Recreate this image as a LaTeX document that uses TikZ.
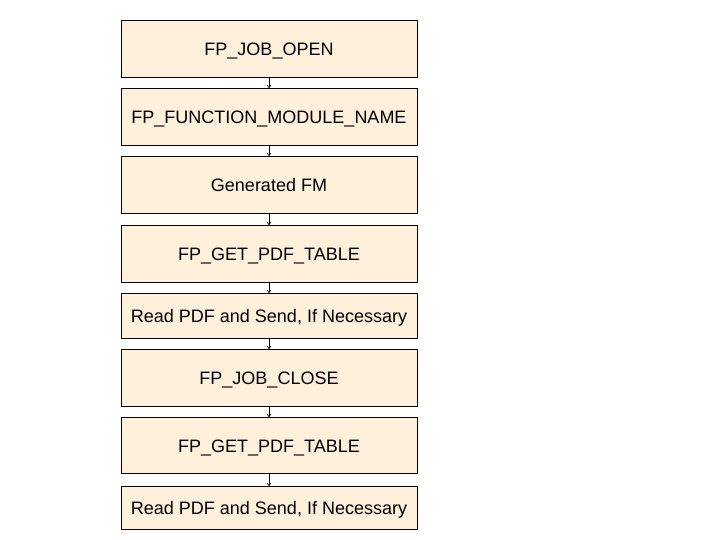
\documentclass[tikz,border=0pt]{standalone}
\usepackage{fontspec}
\setmainfont{Liberation Sans}
\usepackage{xcolor}
\definecolor{box-fill}{RGB}{255,240,219}
\definecolor{box-line}{RGB}{0,0,0}
\usetikzlibrary{positioning,arrows.meta}

\begin{document}
\begin{tikzpicture}[
    every node/.style={inner sep=0pt, outer sep=0pt},
    node distance=11pt,
    stepbox/.style={
        draw=box-line,
        line width=0.8pt,
        fill=box-fill,
        minimum width=296pt,
        minimum height=57pt,
        text height=14.5pt,
        text depth=0pt,
        font=\fontsize{18}{21}\selectfont
    },
    flow/.style={-{To[length=3pt,width=4pt]}, line width=0.6pt}
]

% Page frame
\useasboundingbox (0,0) rectangle (720pt,-540pt);

% Steps
\node[stepbox] (open) at (269pt,-48.5pt) {FP\_JOB\_OPEN};
\node[stepbox, below=of open] (fmname) {FP\_FUNCTION\_MODULE\_NAME};
\node[stepbox, below=of fmname] (genfm) {Generated FM};
\node[stepbox, below=12pt of genfm] (pdftablea) {FP\_GET\_PDF\_TABLE};
\node[stepbox, below=of pdftablea, minimum height=45pt] (senda) {Read PDF and Send, If Necessary};
\node[stepbox, below=of senda] (close) {FP\_JOB\_CLOSE};
\node[stepbox, below=of close, minimum height=56pt] (pdftableb) {FP\_GET\_PDF\_TABLE};
\node[stepbox, below=13pt of pdftableb, minimum height=43pt] (sendb) {Read PDF and Send, If Necessary};

% Connectors
\draw[flow] (open) -- (fmname);
\draw[flow] (fmname) -- (genfm);
\draw[flow] (genfm) -- (pdftablea);
\draw[flow] (pdftablea) -- (senda);
\draw[flow] (senda) -- (close);
\draw[flow] (close) -- (pdftableb);
\draw[flow] (pdftableb) -- (sendb);

\end{tikzpicture}
\end{document}
